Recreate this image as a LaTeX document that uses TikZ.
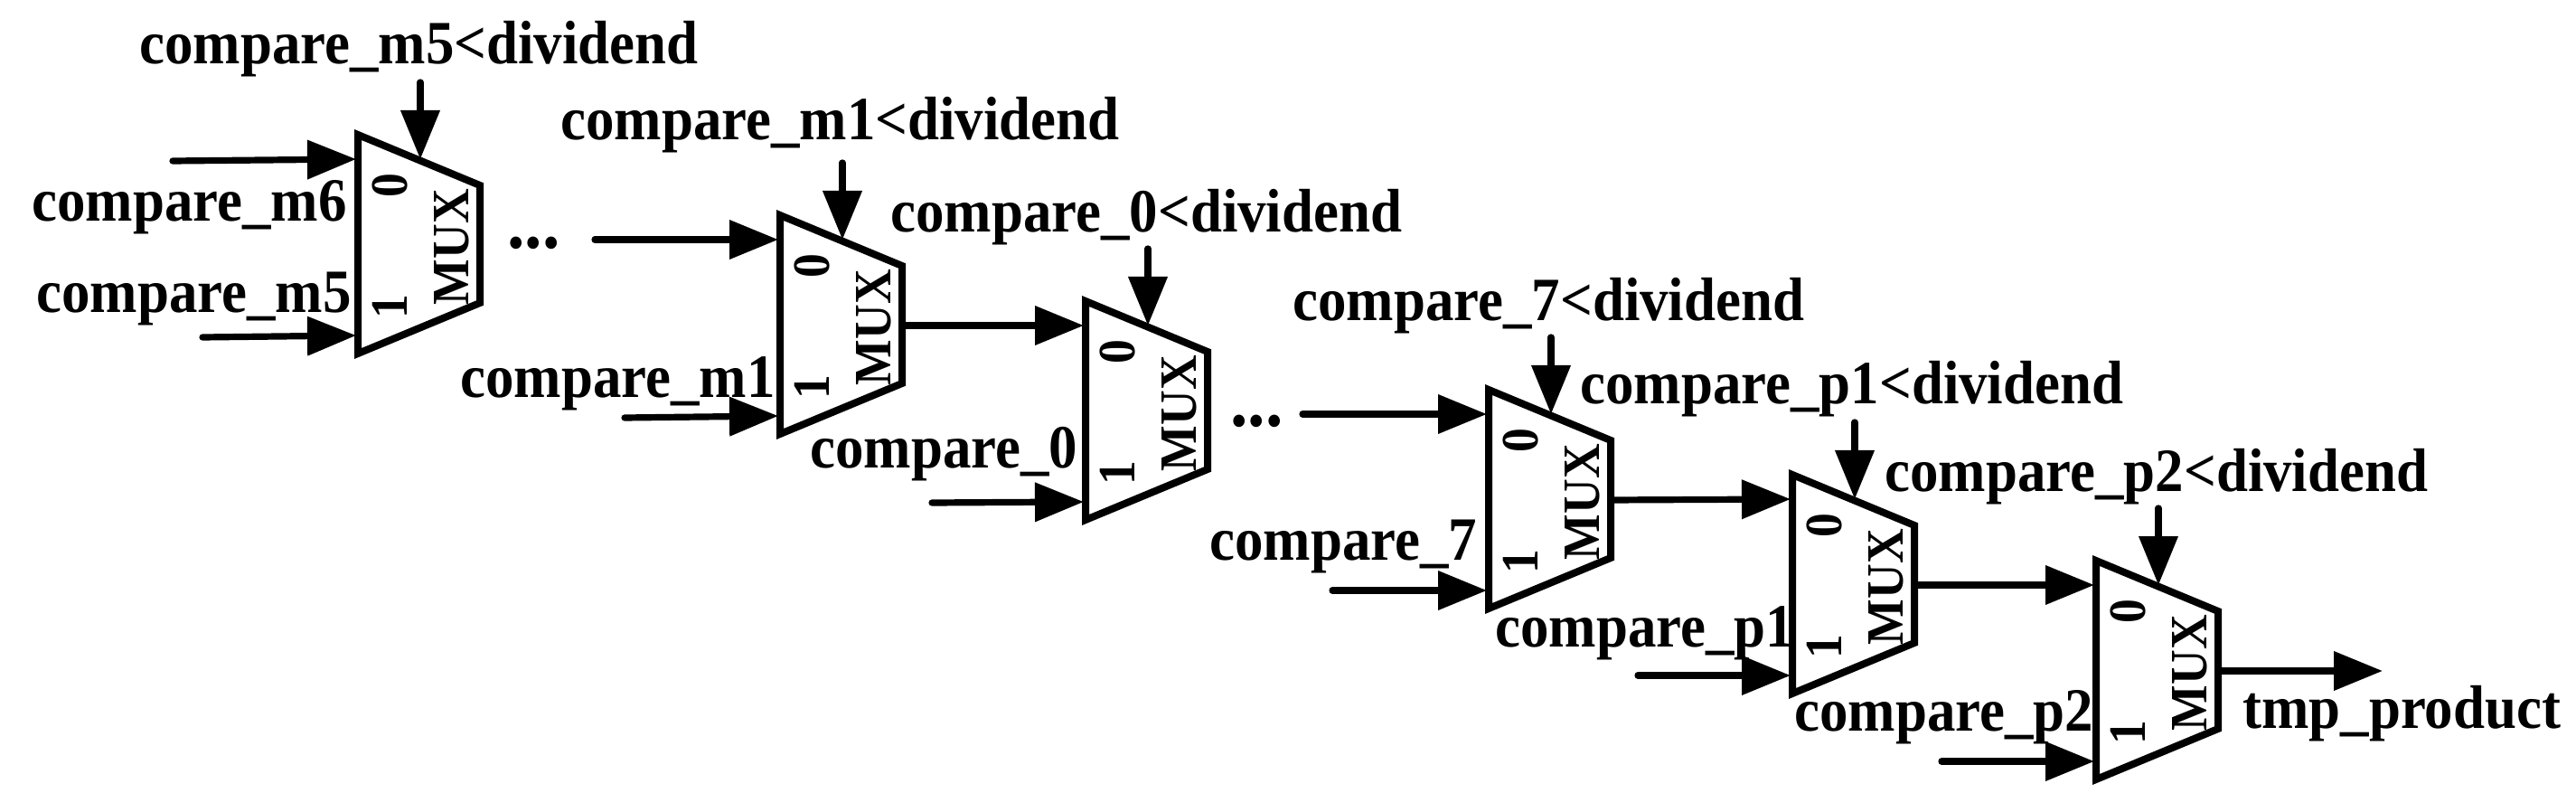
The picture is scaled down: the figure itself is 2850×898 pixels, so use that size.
\documentclass[tikz,border=0pt]{standalone}
\usepackage{fontspec}
\setmainfont[BoldFeatures={FakeStretch=0.925}]{Liberation Serif}
\usetikzlibrary{arrows.meta}
\tikzset{
  muxbody/.style={draw=black,line width=4pt,line join=miter,fill=white},
  wire/.style={line width=3.6pt,line cap=round,-{Triangle[length=27pt,width=21pt]}},
  lab/.style={anchor=base west,inner sep=0pt,font=\fontsize{34}{34}\selectfont\bfseries},
  muxlab/.style={rotate=90,inner sep=0pt,font=\fontsize{29}{29}\selectfont\bfseries},
  bitlab/.style={rotate=90,inner sep=0pt,font=\fontsize{29}{29}\selectfont\bfseries},
  dotlab/.style={anchor=base west,inner sep=0pt,font=\fontsize{42}{42}\selectfont\bfseries}
}
\newcommand{\muxunit}[3]{%
  \begin{scope}[shift={(#2,#3)}]
    \draw[muxbody] (0,0) -- (135,56) -- (135,186) -- (0,242) -- cycle;
    \node[bitlab] (#1zero) at (35,56) {0};
    \node[muxlab] (#1name) at (104,124) {MUX};
    \node[bitlab] (#1one) at (35,190) {1};
    \coordinate (#1in0) at (-2,27);
    \coordinate (#1in1) at (-2,222);
    \coordinate (#1sel) at (69,27);
    \coordinate (#1selfrom) at (69,-58);
    \coordinate (#1out) at (135,122);
  \end{scope}}
\begin{document}
\begin{tikzpicture}[x=0.5pt,y=-0.5pt]
\useasboundingbox (0,0) rectangle (2850,898);
\muxunit{a}{396}{149}
\muxunit{b}{863}{238}
\muxunit{c}{1201}{333}
\muxunit{d}{1647}{431}
\muxunit{e}{1983}{525}
\muxunit{f}{2319}{620}
\coordinate (a0from) at (191,178);
\coordinate (a1from) at (224,373);
\coordinate (b0from) at (658,265);
\coordinate (b1from) at (691,462);
\coordinate (c1from) at (1031,556);
\coordinate (d0from) at (1441,458);
\coordinate (d1from) at (1474,653);
\coordinate (e1from) at (1812,747);
\coordinate (f1from) at (2148,842);
\coordinate (fend) at (2636,742);
\draw[wire] (a0from) -- (ain0);
\draw[wire] (a1from) -- (ain1);
\draw[wire] (aselfrom) -- (asel);
\draw[wire] (b0from) -- (bin0);
\draw[wire] (b1from) -- (bin1);
\draw[wire] (bselfrom) -- (bsel);
\draw[wire] (bout) -- (cin0);
\draw[wire] (c1from) -- (cin1);
\draw[wire] (cselfrom) -- (csel);
\draw[wire] (d0from) -- (din0);
\draw[wire] (d1from) -- (din1);
\draw[wire] (dselfrom) -- (dsel);
\draw[wire] (dout) -- (ein0);
\draw[wire] (e1from) -- (ein1);
\draw[wire] (eselfrom) -- (esel);
\draw[wire] (eout) -- (fin0);
\draw[wire] (f1from) -- (fin1);
\draw[wire] (fselfrom) -- (fsel);
\draw[wire] (fout) -- (fend);
\node[lab] (ta) at (154,71) {compare\textunderscore m5<dividend};
\node[lab] (tb) at (620,155) {compare\textunderscore m1<dividend};
\node[lab] (tc) at (985,257) {compare\textunderscore 0<dividend};
\node[lab] (td) at (1430,355) {compare\textunderscore 7<dividend};
\node[lab] (te) at (1748,447) {compare\textunderscore p1<dividend};
\node[lab] (tf) at (2085,544) {compare\textunderscore p2<dividend};
\node[lab] (la0) at (35,245) {compare\textunderscore m6};
\node[lab] (la1) at (40,346) {compare\textunderscore m5};
\node[lab] (lb1) at (509,440) {compare\textunderscore m1};
\node[lab] (lc1) at (896,517) {compare\textunderscore 0};
\node[lab] (ld1) at (1338,619) {compare\textunderscore 7};
\node[lab] (le1) at (1654,715) {compare\textunderscore p1};
\node[lab] (lf1) at (1985,808) {compare\textunderscore p2};
\node[lab] (out) at (2481,805) {tmp\textunderscore product};
\node[dotlab] (dotsa) at (561,275) {...};
\node[dotlab] (dotsb) at (1361,472) {...};
\end{tikzpicture}
\end{document}
